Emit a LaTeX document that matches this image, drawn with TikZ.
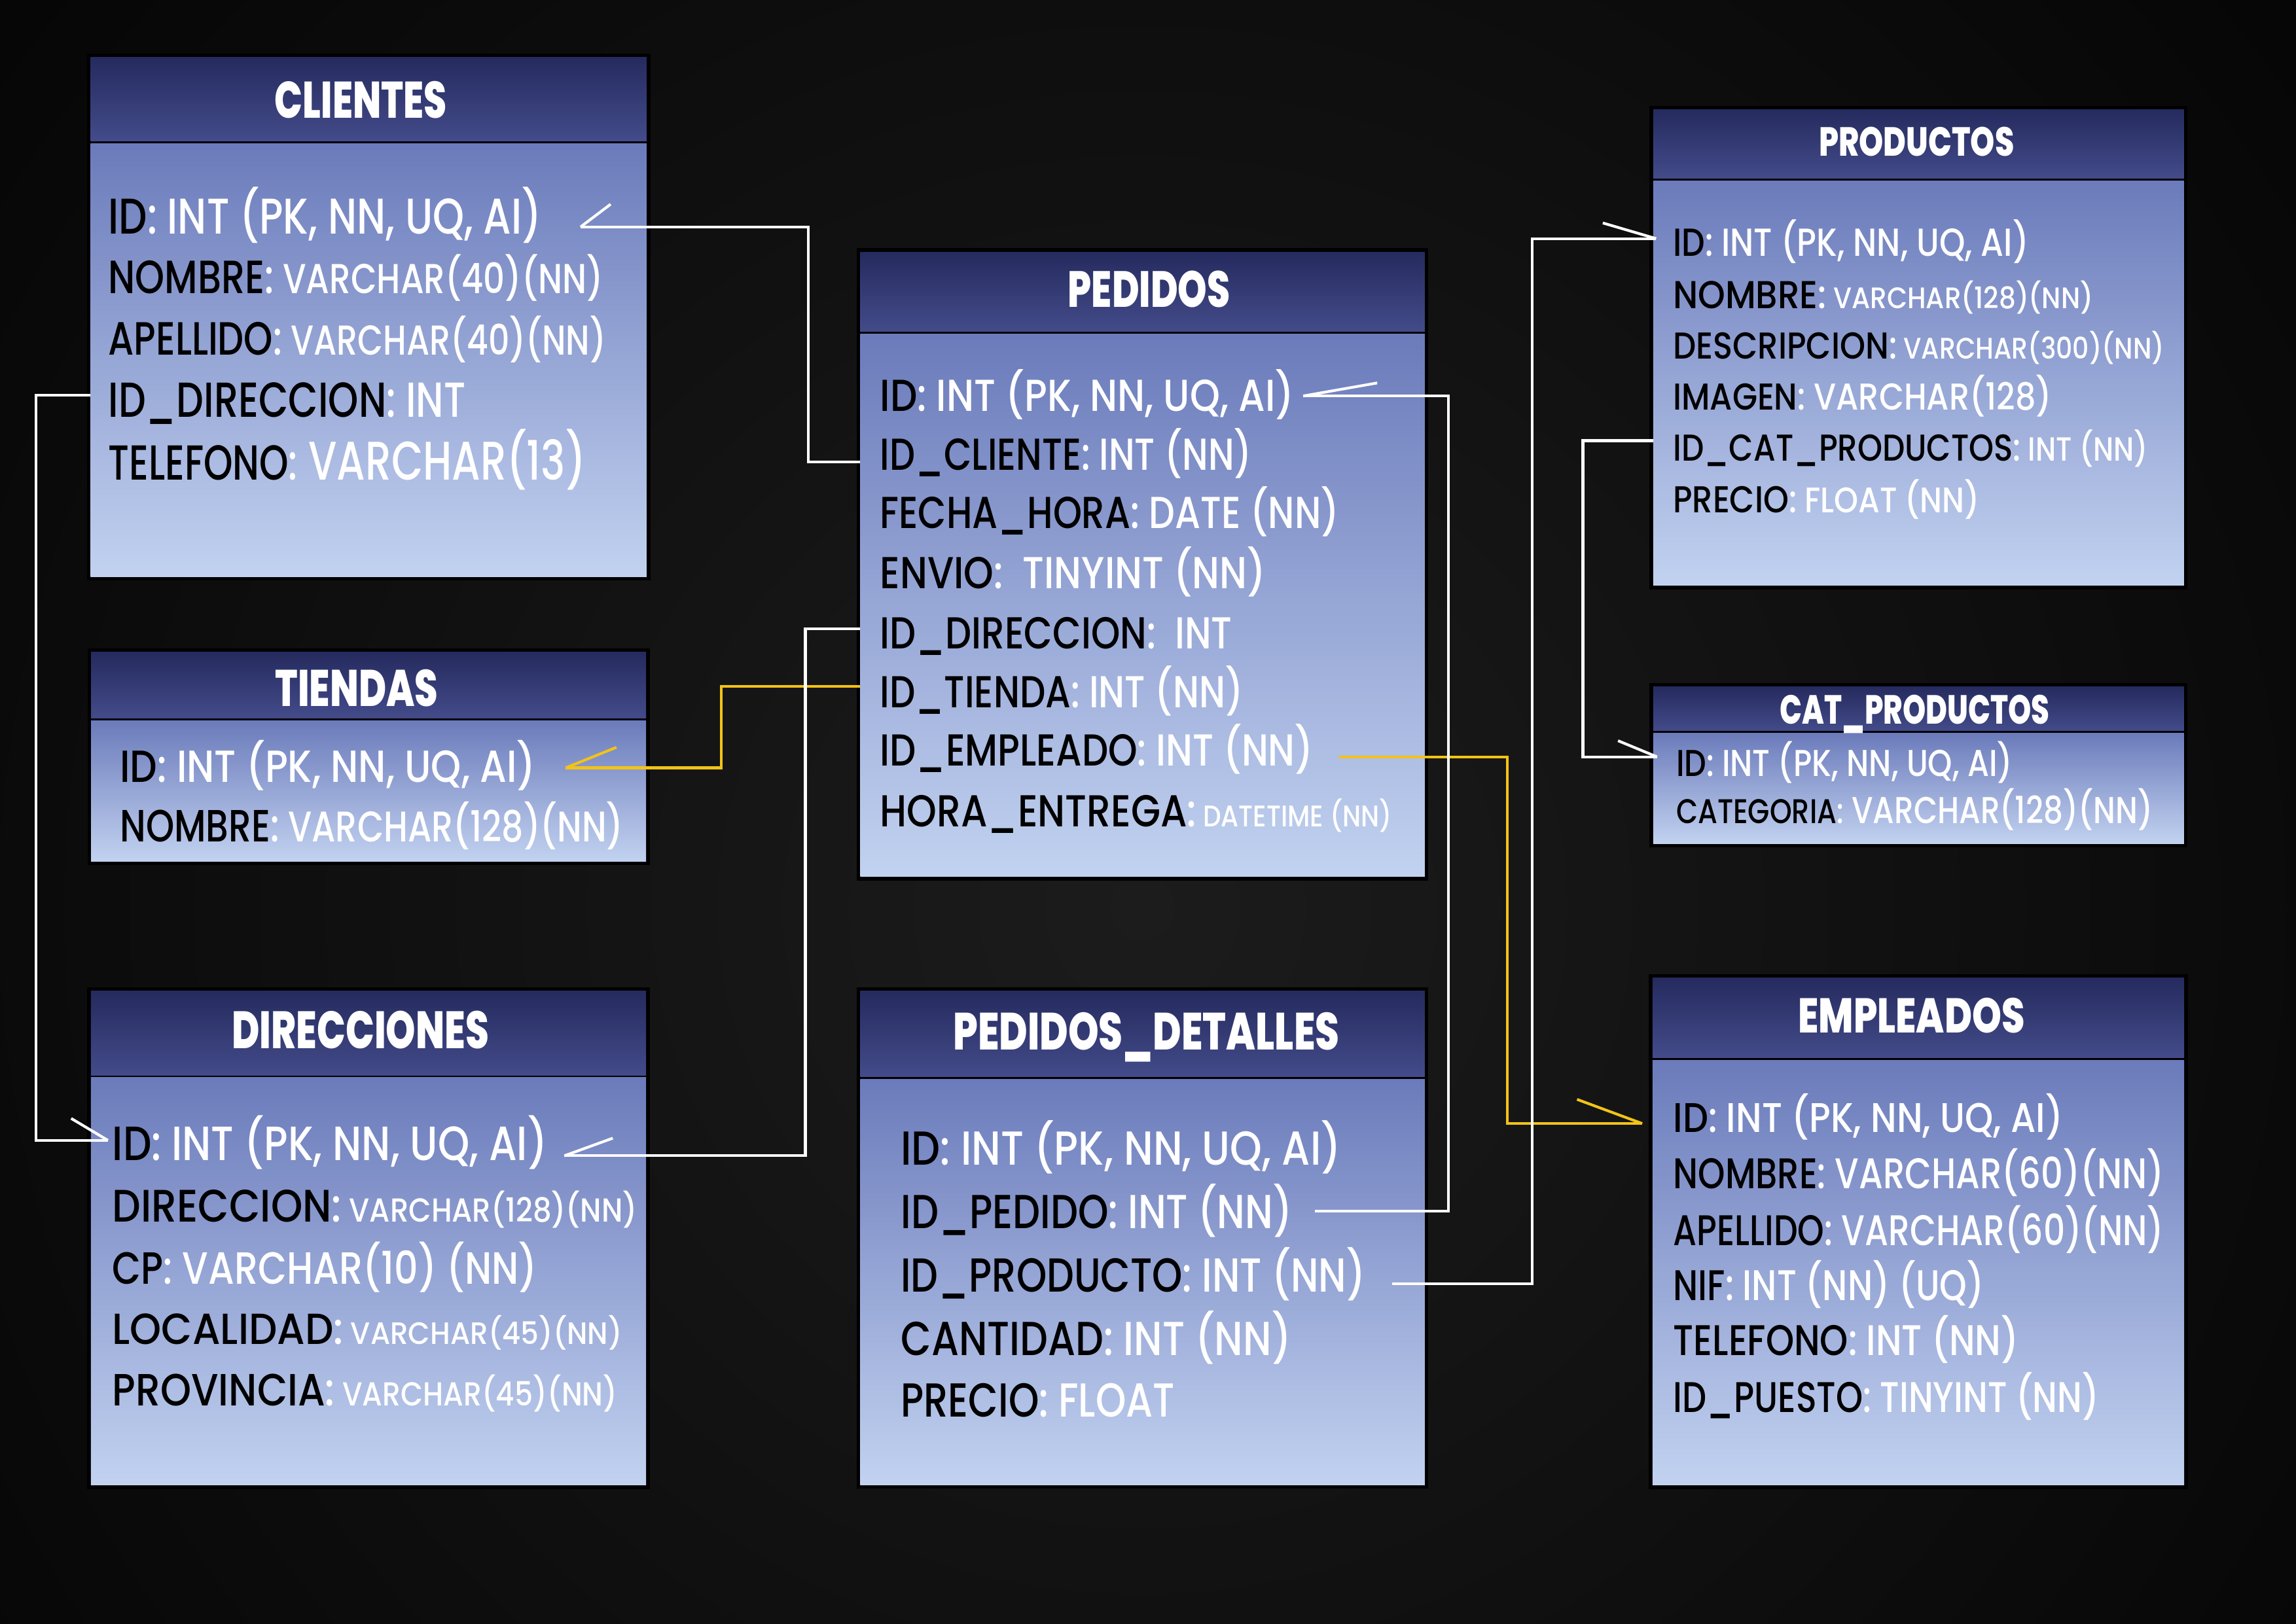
\documentclass[tikz,border=0pt]{standalone}
\usepackage{fontspec}
\usepackage{graphicx}
\setmainfont{Poppins}[UprightFont=* Medium, BoldFont=* ExtraBold]
\definecolor{hdtop}{HTML}{252B5E}
\definecolor{hdbot}{HTML}{434B8A}
\definecolor{bdtop}{HTML}{6B7BBB}
\definecolor{bdbot}{HTML}{C2D2F0}
\definecolor{fkyel}{HTML}{F2C318}
\definecolor{bgin}{HTML}{1C1C1C}
\newdimen\pxu \pxu=0.0189413cm
\newcommand\fs[1]{\fontsize{\fpeval{#1*0.77}pt}{\fpeval{#1*0.9}pt}\selectfont}
% table: id, x1, x2, header y1, header y2, body y1, body y2
\newcommand\tbl[7]{%
  \fill[black] (#2-2.5,#4-2.5) rectangle (#3+2.5,#7+2.5);
  \node[hdbox, minimum width={(#3-#2)*\pxu}, minimum height={(#5-#4)*\pxu}] (#1-h) at ({(#2+#3)/2},{(#4+#5)/2}) {};
  \node[bdbox, minimum width={(#3-#2)*\pxu}, minimum height={(#7-#6)*\pxu}] (#1-b) at ({(#2+#3)/2},{(#6+#7)/2}) {};
}
% title: id, x left, x right, baseline, cap, text
\newcommand\ttl[6]{%
  \node[txt] (#1-t) at (#2,#4) {\resizebox{\fpeval{#3-#2}\pxu}{\height}{\bfseries\fs{#5}\color{white}#6}};
}
% row: id, x, baseline, x right, name cap, type cap, field, type
\newcommand\rw[8]{%
  \node[txt] (#1) at (#2,#3) {\resizebox{\fpeval{#4-#2}\pxu}{\height}{\fs{#5}\color{black}#7\color{white}:\fs{#6}\ #8}};
}
\begin{document}
\begin{tikzpicture}[x=0.0189413cm,y=-0.0189413cm,
  hdbox/.style={rectangle, inner sep=0, outer sep=0, draw=none, top color=hdtop, bottom color=hdbot},
  bdbox/.style={rectangle, inner sep=0, outer sep=0, draw=none, top color=bdtop, bottom color=bdbot},
  txt/.style={anchor=base west, inner sep=0, outer sep=0},
  wire/.style={draw=white, line width=1pt, line join=miter},
  ywire/.style={draw=fkyel, line width=1pt, line join=miter}]
\useasboundingbox (0,0) rectangle (1568,1109);
\fill[black] (0,0) rectangle (1568,1109);
\begin{scope}
  \clip (0,0) rectangle (1568,1109);
  \shade[inner color=bgin, outer color=black] (780,620) circle (1250);
\end{scope}

% ---------- tables ----------
\tbl{cli}{61.8}{441.6}{39}{96.1}{98.3}{394}
\tbl{tie}{62.2}{441.2}{445.5}{490.5}{492.4}{588.5}
\tbl{dir}{62.1}{441.2}{677}{734.5}{736.1}{1014.6}
\tbl{ped}{587.5}{973}{172.1}{226.3}{228.3}{598.9}
\tbl{det}{587.5}{973}{676.9}{735.5}{737.1}{1014.4}
\tbl{pro}{1129}{1491.5}{74.8}{121.9}{123.7}{400}
\tbl{cat}{1129}{1491.5}{469}{499.1}{500.9}{576.2}
\tbl{emp}{1128.6}{1491.6}{667.9}{722.6}{724.5}{1014.6}

% ---------- connectors ----------
\coordinate (c4a) at (587.5,469);   \coordinate (c4b) at (492.6,469);
\coordinate (c4c) at (492.6,524.5); \coordinate (c4t) at (386.4,524.5);
\coordinate (c4k) at (421,510.5);
\draw[ywire] (c4a) -- (c4b) -- (c4c) -- (c4t);
\draw[ywire] (c4t) -- (c4k);

\coordinate (c6a) at (914.5,517);    \coordinate (c6b) at (1029.5,517);
\coordinate (c6c) at (1029.5,767.5); \coordinate (c6t) at (1121.5,767.5);
\coordinate (c6k) at (1077,751);
\draw[ywire] (c6a) -- (c6b) -- (c6c) -- (c6t);
\draw[ywire] (c6t) -- (c6k);

\coordinate (c1a) at (587.5,315.5); \coordinate (c1b) at (552,315.5);
\coordinate (c1c) at (552,155);     \coordinate (c1t) at (396.5,155);
\coordinate (c1k) at (417,139.5);
\draw[wire] (c1a) -- (c1b) -- (c1c) -- (c1t);
\draw[wire] (c1t) -- (c1k);

\coordinate (c2a) at (61.8,270);  \coordinate (c2b) at (24.5,270);
\coordinate (c2c) at (24.5,779);  \coordinate (c2t) at (73.7,779);
\coordinate (c2k) at (48.6,764);
\draw[wire] (c2a) -- (c2b) -- (c2c) -- (c2t);
\draw[wire] (c2t) -- (c2k);

\coordinate (c3a) at (587.5,429.5); \coordinate (c3b) at (550,429.5);
\coordinate (c3c) at (550,789.5);   \coordinate (c3t) at (385.5,789.5);
\coordinate (c3k) at (418.5,777.5);
\draw[wire] (c3a) -- (c3b) -- (c3c) -- (c3t);
\draw[wire] (c3t) -- (c3k);

\coordinate (c5a) at (898,827.4); \coordinate (c5b) at (989,827.4);
\coordinate (c5c) at (989,270.5); \coordinate (c5t) at (890,270.5);
\coordinate (c5k) at (940.5,261.6);
\draw[wire] (c5a) -- (c5b) -- (c5c) -- (c5t);
\draw[wire] (c5t) -- (c5k);

\coordinate (c7a) at (950.7,877);  \coordinate (c7b) at (1046.5,877);
\coordinate (c7c) at (1046.5,163); \coordinate (c7t) at (1131,163);
\coordinate (c7k) at (1094.6,152.3);
\draw[wire] (c7a) -- (c7b) -- (c7c) -- (c7t);
\draw[wire] (c7t) -- (c7k);

\coordinate (c8a) at (1129,301); \coordinate (c8b) at (1081,301);
\coordinate (c8c) at (1081,517); \coordinate (c8t) at (1131.6,517);
\coordinate (c8k) at (1105,506);
\draw[wire] (c8a) -- (c8b) -- (c8c) -- (c8t);
\draw[wire] (c8t) -- (c8k);

% ---------- titles ----------
\ttl{cli}{187.7}{305.2}{80.5}{24.6}{CLIENTES}
\ttl{tie}{188}{299.2}{482.7}{24.6}{TIENDAS}
\ttl{dir}{158.4}{333.9}{716.3}{25.1}{DIRECCIONES}
\ttl{ped}{729.4}{840.2}{209.8}{24.3}{PEDIDOS}
\ttl{det}{650.9}{914.7}{717.2}{25}{PEDIDOS\_DETALLES}
\ttl{pro}{1242.2}{1375.5}{106.5}{19.4}{PRODUCTOS}
\ttl{cat}{1215.6}{1399.6}{494.7}{19.4}{CAT\_PRODUCTOS}
\ttl{emp}{1228}{1382.7}{705.4}{23.3}{EMPLEADOS}

% ---------- rows ----------
\rw{cli-id}{74}{160}{370}{24}{24}{ID}{INT (PK, NN, UQ, AI)}
\rw{cli-nom}{74}{200.5}{412}{22.3}{20}{NOMBRE}{VARCHAR(40)(NN)}
\rw{cli-ape}{74}{242.5}{414}{22.3}{20}{APELLIDO}{VARCHAR(40)(NN)}
\rw{cli-dir}{74}{285}{318}{23.5}{23.5}{ID\_DIRECCION}{INT}
\rw{cli-tel}{74}{328}{400}{23.5}{26}{TELEFONO}{VARCHAR(13)}

\rw{tie-id}{82}{534.2}{366}{21.5}{21.5}{ID}{INT (PK, NN, UQ, AI)}
\rw{tie-nom}{82}{575.1}{425.8}{21.6}{20.5}{NOMBRE}{VARCHAR(128)(NN)}

\rw{dir-id}{76.8}{792.7}{373.8}{23}{23}{ID}{INT (PK, NN, UQ, AI)}
\rw{dir-dir}{76.8}{834.9}{435.2}{21.8}{15.9}{DIRECCION}{VARCHAR(128)(NN)}
\rw{dir-cp}{76.8}{877}{366.9}{21.6}{21.6}{CP}{VARCHAR(10) (NN)}
\rw{dir-loc}{76.8}{918.1}{424.9}{20.8}{14.8}{LOCALIDAD}{VARCHAR(45)(NN)}
\rw{dir-pro}{76.8}{960.3}{421.7}{21.6}{15.9}{PROVINCIA}{VARCHAR(45)(NN)}

\rw{ped-id}{601}{281}{883.8}{21.4}{21.4}{ID}{INT (PK, NN, UQ, AI)}
\rw{ped-cli}{601}{321}{855}{21.4}{21.4}{ID\_CLIENTE}{INT (NN)}
\rw{ped-fec}{601}{360.9}{914.6}{21.4}{21.4}{FECHA\_HORA}{DATE (NN)}
\rw{ped-env}{601}{402.2}{864.6}{21.4}{21.4}{ENVIO}{\ TINYINT (NN)}
\rw{ped-dir}{601}{443}{841.5}{21.4}{21.4}{ID\_DIRECCION}{\ INT}
\rw{ped-tie}{601}{483.4}{849}{21.4}{21.4}{ID\_TIENDA}{INT (NN)}
\rw{ped-emp}{601}{523.3}{897}{21.4}{21.4}{ID\_EMPLEADO}{INT (NN)}
\rw{ped-hor}{601}{564.7}{950.6}{21.4}{14.3}{HORA\_ENTREGA}{DATETIME (NN)}

\rw{det-id}{615.2}{795.9}{915.8}{22.8}{22.8}{ID}{INT (PK, NN, UQ, AI)}
\rw{det-ped}{615.2}{839.3}{882.6}{22.8}{22.8}{ID\_PEDIDO}{INT (NN)}
\rw{det-pro}{615.2}{882.6}{932.6}{22.8}{22.8}{ID\_PRODUCTO}{INT (NN)}
\rw{det-can}{615.2}{925.9}{881.8}{22.8}{22.8}{CANTIDAD}{INT (NN)}
\rw{det-pre}{615.2}{968.1}{802.3}{22.8}{22.8}{PRECIO}{FLOAT}

\rw{pro-id}{1142.6}{175.1}{1385.5}{18.7}{18.7}{ID}{INT (PK, NN, UQ, AI)}
\rw{pro-nom}{1142.6}{210.8}{1429.5}{18.6}{14.2}{NOMBRE}{VARCHAR(128)(NN)}
\rw{pro-des}{1142.6}{245.1}{1478.1}{17.9}{14.2}{DESCRIPCION}{VARCHAR(300)(NN)}
\rw{pro-ima}{1142.6}{280.1}{1401.2}{17.9}{17.9}{IMAGEN}{VARCHAR(128)}
\rw{pro-cat}{1142.6}{315}{1467}{17.9}{16}{ID\_CAT\_PRODUCTOS}{INT (NN)}
\rw{pro-pre}{1142.6}{350}{1352}{17.9}{17}{PRECIO}{FLOAT (NN)}

\rw{cat-id}{1144.7}{530.4}{1374.5}{17.9}{17.9}{ID}{INT (PK, NN, UQ, AI)}
\rw{cat-cat}{1144.7}{562.5}{1470.2}{16.4}{17.9}{CATEGORIA}{VARCHAR(128)(NN)}

\rw{emp-id}{1142.8}{773.3}{1409}{19.8}{19.8}{ID}{INT (PK, NN, UQ, AI)}
\rw{emp-nom}{1142.8}{812}{1477.8}{20.5}{20.5}{NOMBRE}{VARCHAR(60)(NN)}
\rw{emp-ape}{1142.8}{850.8}{1477.8}{20.5}{20.5}{APELLIDO}{VARCHAR(60)(NN)}
\rw{emp-nif}{1142.8}{888.5}{1355}{20.5}{20.5}{NIF}{INT (NN) (UQ)}
\rw{emp-tel}{1142.8}{926.1}{1378.8}{20.5}{20.5}{TELEFONO}{INT (NN)}
\rw{emp-pue}{1142.8}{964.9}{1433.5}{20.5}{20.5}{ID\_PUESTO}{TINYINT (NN)}
\end{tikzpicture}
\end{document}
